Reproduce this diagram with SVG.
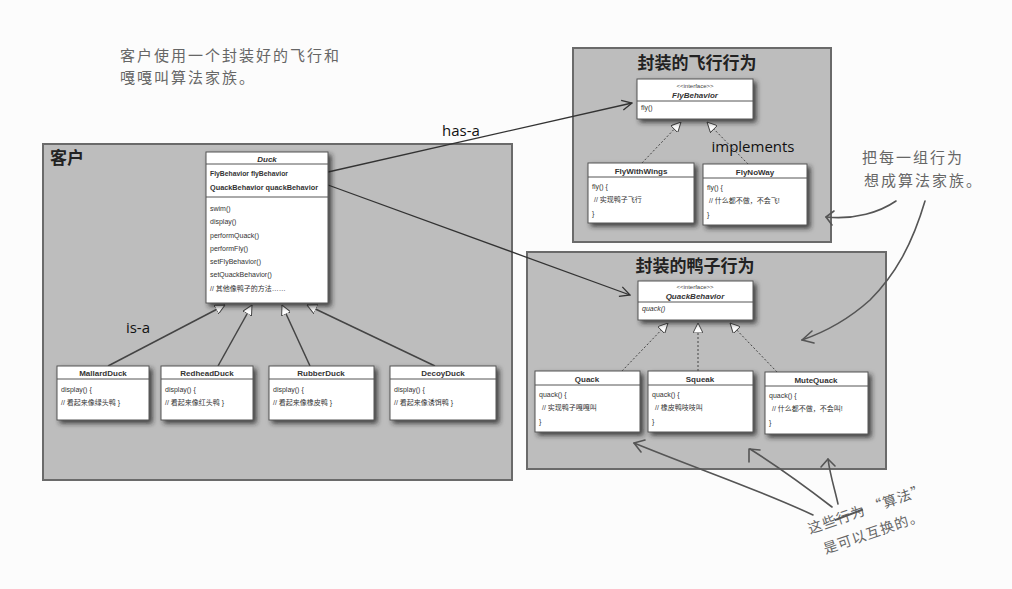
<svg xmlns="http://www.w3.org/2000/svg" width="1012" height="589" viewBox="0 0 1012 589">
<style>
.bg{fill:#bdbdbd;stroke:#6a6a6a;stroke-width:2}
.cls{fill:#ffffff;stroke:#555;stroke-width:1;filter:url(#sh)}
.sep{stroke:#555;stroke-width:1}
.t{font-family:"Liberation Sans","Noto Sans CJK SC",sans-serif;font-size:7px;fill:#333}
.tb{font-family:"Liberation Sans","Noto Sans CJK SC",sans-serif;font-size:8px;font-weight:bold;fill:#333}
.ti{font-family:"Liberation Sans",sans-serif;font-size:8px;font-weight:bold;font-style:italic;fill:#333}
.st{font-family:"Liberation Sans",sans-serif;font-size:6px;fill:#444}
.h{font-family:"Noto Sans CJK SC",sans-serif;font-size:17px;font-weight:bold;fill:#222}
.lbl{font-family:"Open Sans","Liberation Sans",sans-serif;font-size:15px;fill:#111}
.hw{font-family:"Noto Sans CJK SC",sans-serif;font-size:15px;fill:#666;letter-spacing:2px}
.hwb{font-family:"Noto Sans CJK SC",sans-serif;font-size:14px;fill:#666;letter-spacing:1px}
.inh{stroke:#444;stroke-width:1.5;fill:none;marker-end:url(#tri)}
.impl{stroke:#444;stroke-width:1;stroke-dasharray:2 2;fill:none;marker-end:url(#tri)}
.has{stroke:#333;stroke-width:1.3;fill:none;marker-end:url(#open)}
.pen{stroke:#555;stroke-width:1.6;fill:none;stroke-linecap:round;stroke-linejoin:round}
</style>
<defs>
<filter id="sh" x="-20%" y="-20%" width="150%" height="150%">
<feDropShadow dx="3" dy="3" stdDeviation="2.5" flood-color="#222" flood-opacity="0.8"/>
</filter>
<marker id="tri" viewBox="0 0 10 10" refX="10" refY="5" markerWidth="10" markerHeight="10" markerUnits="userSpaceOnUse" orient="auto">
<path d="M0,0 L10,5 L0,10 z" fill="#fff" stroke="#444" stroke-width="1"/>
</marker>
<marker id="open" viewBox="0 0 12 12" refX="11" refY="6" markerWidth="12" markerHeight="12" markerUnits="userSpaceOnUse" orient="auto">
<path d="M1,1 L11,6 L1,11" fill="none" stroke="#333" stroke-width="1.3"/>
</marker>
</defs>
<rect width="1012" height="589" fill="#fcfcfc"/>

<g id="note-top">
<text class="hw" x="120" y="61">客户使用一个封装好的飞行和</text>
<text class="hw" x="120" y="83">嘎嘎叫算法家族。</text>
</g>

<g id="client">
<rect class="bg" x="43" y="144" width="469" height="336"/>
<text class="h" x="50" y="164">客户</text>
</g>
<g id="fly-group">
<rect class="bg" x="573" y="48" width="258" height="194" fill="#b8b8b8"/>
<text class="h" x="697" y="69" text-anchor="middle">封装的飞行行为</text>
</g>
<g id="quack-group">
<rect class="bg" x="527" y="252" width="359" height="217"/>
<text class="h" x="695" y="272" text-anchor="middle">封装的鸭子行为</text>
</g>

<g id="connectors">
<path class="inh" d="M108,366 L225,305"/>
<path class="inh" d="M218,366 L252,305"/>
<path class="inh" d="M310,366 L282,305"/>
<path class="inh" d="M435,366 L307,305"/>
<path class="impl" d="M642,163 L681,122"/>
<path class="impl" d="M748,164 L707,122"/>
<path class="impl" d="M622,371 L668,323"/>
<path class="impl" d="M698,371 L698,323"/>
<path class="impl" d="M777,372 L730,323"/>
<path class="has" d="M328,172 L632,103"/>
<path class="has" d="M328,185 L630,295"/>
<text class="lbl" x="138" y="333" text-anchor="middle">is-a</text>
<text class="lbl" x="461" y="136" text-anchor="middle">has-a</text>
<text class="lbl" x="753" y="152" text-anchor="middle">implements</text>
</g>

<g id="duck">
<rect class="cls" x="206" y="152" width="122" height="151"/>
<line class="sep" x1="206" y1="164" x2="328" y2="164"/>
<line class="sep" x1="206" y1="197" x2="328" y2="197"/>
<text class="ti" x="267" y="162" text-anchor="middle">Duck</text>
<text class="tb" x="210" y="176" font-size="7" textLength="78" lengthAdjust="spacingAndGlyphs">FlyBehavior flyBehavior</text>
<text class="tb" x="210" y="190" font-size="7" textLength="108" lengthAdjust="spacingAndGlyphs">QuackBehavior quackBehavior</text>
<text class="t" x="210" y="211">swim()</text>
<text class="t" x="210" y="224">display()</text>
<text class="t" x="210" y="238">performQuack()</text>
<text class="t" x="210" y="251">performFly()</text>
<text class="t" x="210" y="264">setFlyBehavior()</text>
<text class="t" x="210" y="277">setQuackBehavior()</text>
<text class="t" x="210" y="291">// 其他像鸭子的方法……</text>
</g>

<g id="mallard">
<rect class="cls" x="57" y="366" width="92" height="54"/>
<line class="sep" x1="57" y1="379" x2="149" y2="379"/>
<text class="tb" x="103" y="376" text-anchor="middle">MallardDuck</text>
<text class="t" x="61" y="392">display() {</text>
<text class="t" x="61" y="405">// 看起来像绿头鸭 }</text>
</g>
<g id="redhead">
<rect class="cls" x="161" y="366" width="92" height="54"/>
<line class="sep" x1="161" y1="379" x2="253" y2="379"/>
<text class="tb" x="207" y="376" text-anchor="middle">RedheadDuck</text>
<text class="t" x="165" y="392">display() {</text>
<text class="t" x="165" y="405">// 看起来像红头鸭 }</text>
</g>
<g id="rubber">
<rect class="cls" x="269" y="366" width="105" height="54"/>
<line class="sep" x1="269" y1="379" x2="374" y2="379"/>
<text class="tb" x="321" y="376" text-anchor="middle">RubberDuck</text>
<text class="t" x="273" y="392">display() {</text>
<text class="t" x="273" y="405">// 看起来像橡皮鸭 }</text>
</g>
<g id="decoy">
<rect class="cls" x="390" y="366" width="106" height="54"/>
<line class="sep" x1="390" y1="379" x2="496" y2="379"/>
<text class="tb" x="443" y="376" text-anchor="middle">DecoyDuck</text>
<text class="t" x="394" y="392">display() {</text>
<text class="t" x="394" y="405">// 看起来像诱饵鸭 }</text>
</g>

<g id="flybehavior">
<rect class="cls" x="637" y="79" width="116" height="40"/>
<line class="sep" x1="637" y1="101" x2="753" y2="101"/>
<text class="st" x="695" y="88" text-anchor="middle">&lt;&lt;interface&gt;&gt;</text>
<text class="ti" x="695" y="98" text-anchor="middle">FlyBehavior</text>
<text class="t" x="641" y="110">fly()</text>
</g>
<g id="flywithwings">
<rect class="cls" x="588" y="163" width="106" height="60"/>
<line class="sep" x1="588" y1="177" x2="694" y2="177"/>
<text class="tb" x="641" y="174" text-anchor="middle">FlyWithWings</text>
<text class="t" x="592" y="189">fly() {</text>
<text class="t" x="594" y="202">// 实现鸭子飞行</text>
<text class="t" x="592" y="216">}</text>
</g>
<g id="flynoway">
<rect class="cls" x="703" y="164" width="104" height="61"/>
<line class="sep" x1="703" y1="178" x2="807" y2="178"/>
<text class="tb" x="755" y="175" text-anchor="middle">FlyNoWay</text>
<text class="t" x="707" y="190">fly() {</text>
<text class="t" x="709" y="203">// 什么都不做，不会飞!</text>
<text class="t" x="707" y="217">}</text>
</g>

<g id="quackbehavior">
<rect class="cls" x="638" y="281" width="115" height="39"/>
<line class="sep" x1="638" y1="302" x2="753" y2="302"/>
<text class="st" x="695" y="289" text-anchor="middle">&lt;&lt;interface&gt;&gt;</text>
<text class="ti" x="695" y="299" text-anchor="middle">QuackBehavior</text>
<text class="t" x="642" y="311" font-style="italic">quack()</text>
</g>
<g id="quack">
<rect class="cls" x="535" y="371" width="105" height="61"/>
<line class="sep" x1="535" y1="385" x2="640" y2="385"/>
<text class="tb" x="587" y="382" text-anchor="middle">Quack</text>
<text class="t" x="539" y="397">quack() {</text>
<text class="t" x="542" y="410">// 实现鸭子嘎嘎叫</text>
<text class="t" x="539" y="424">}</text>
</g>
<g id="squeak">
<rect class="cls" x="648" y="371" width="105" height="61"/>
<line class="sep" x1="648" y1="385" x2="753" y2="385"/>
<text class="tb" x="700" y="382" text-anchor="middle">Squeak</text>
<text class="t" x="652" y="397">quack() {</text>
<text class="t" x="655" y="410">// 橡皮鸭吱吱叫</text>
<text class="t" x="652" y="424">}</text>
</g>
<g id="mutequack">
<rect class="cls" x="765" y="372" width="103" height="62"/>
<line class="sep" x1="765" y1="386" x2="868" y2="386"/>
<text class="tb" x="816" y="383" text-anchor="middle">MuteQuack</text>
<text class="t" x="769" y="398">quack() {</text>
<text class="t" x="772" y="411">// 什么都不做，不会叫!</text>
<text class="t" x="769" y="425">}</text>
</g>

<g id="note-right">
<text class="hw" x="862" y="163">把每一组行为</text>
<text class="hw" x="864" y="186">想成算法家族。</text>
<path class="pen" d="M896,201 C880,212 855,220 826,217"/>
<path class="pen" d="M834,211 L826,217 L832,225"/>
<path class="pen" d="M925,201 C912,245 895,275 870,300 C850,318 825,332 802,340"/>
<path class="pen" d="M812,331 L802,340 L814,343"/>
</g>

<g id="note-bottom">
<g transform="translate(810,534) rotate(-19)">
<text class="hwb" x="0" y="0">这些<tspan>行为</tspan> “算法”</text>
<line x1="28" y1="-5" x2="58" y2="-6" stroke="#555" stroke-width="2"/>
<text class="hwb" x="8" y="24">是可以互换的。</text>
</g>
<path class="pen" d="M813,515 C760,490 700,470 634,443"/>
<path class="pen" d="M645,440 L634,443 L641,452"/>
<path class="pen" d="M832,507 C810,490 780,468 750,449"/>
<path class="pen" d="M749,462 L749,449 L760,450"/>
<path class="pen" d="M838,504 C835,490 830,475 828,459"/>
<path class="pen" d="M821,467 L828,459 L835,466"/>
</g>
</svg>
